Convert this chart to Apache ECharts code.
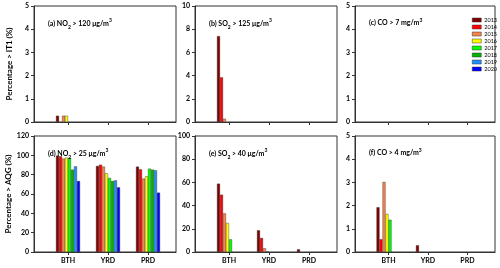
<!DOCTYPE html>
<html><head><meta charset="utf-8">
<script src="https://cdn.jsdelivr.net/npm/echarts@6/dist/echarts.min.js"></script>
<style>html,body{margin:0;padding:0;background:#fff}#c{width:500px;height:268px}</style>
</head><body><div id="c"></div>
<script>
// ---- data ----
const categories = ['BTH', 'YRD', 'PRD'];
const years = ['2013', '2014', '2015', '2016', '2017', '2018', '2019', '2020'];
// each row = one year, columns = BTH, YRD, PRD
const no2_it1 = [[0.27,0,0],[0,0,0],[0.27,0,0],[0.27,0,0],[0,0,0],[0,0,0],[0,0,0],[0,0,0]];
const so2_it1 = [[7.4,0,0],[3.85,0,0],[0.28,0,0],[0,0,0],[0,0,0],[0,0,0],[0,0,0],[0,0,0]];
const co_it1  = [[0,0,0],[0,0,0],[0,0,0],[0,0,0],[0,0,0],[0,0,0],[0,0,0],[0,0,0]];
const no2_aqg = [[99.7,89,88.3],[99,90.3,85.5],[96.6,88.3,75.9],[97.6,81.4,78.3],[97.2,76.6,86.2],[85.2,73.4,85.2],[88.6,74.1,84.5],[73.4,66.9,61.4]];
const so2_aqg = [[58.9,18.7,2.3],[49.4,12.1,0],[33.3,3.2,0],[25,0.3,0],[10.9,0,0],[0,0,0],[0,0,0],[0,0,0]];
const co_aqg  = [[1.93,0.29,0],[0.55,0,0],[3.02,0,0],[1.64,0,0],[1.39,0,0],[0,0,0],[0,0,0],[0,0,0]];
const yMax = [5, 10, 5, 120, 100, 5];
const yStep = [1, 2, 1, 20, 20, 1];
const panelTitles = [
  '(a) NO{sub|2} > 120 μg/m{sup|3}',
  '(b) SO{sub|2} > 125 μg/m{sup|3}',
  '(c) CO > 7 mg/m{sup|3}',
  '(d) NO{sub|2} > 25 μg/m{sup|3}',
  '(e) SO{sub|2} > 40 μg/m{sup|3}',
  '(f) CO > 4 mg/m{sup|3}'
];
const yNames = ['Percentage > IT1 (%)', 'Percentage > AQG (%)'];
const panels = [no2_it1, so2_it1, co_it1, no2_aqg, so2_aqg, co_aqg];

// ---- styles ----
const colors = ['#800000', '#ff0000', '#f7844a', '#ffff00', '#00ff00', '#00b400', '#1e90ff', '#0000ff'];
const FONT = 'Lato';
const lefts = [34, 195, 355];
const widths = [142, 142, 140];
const tops = [6, 136];
const H = 116;

const grids = [], xAxes = [], yAxes = [], series = [], titles = [];
for (let p = 0; p < 6; p++) {
  const col = p % 3, row = Math.floor(p / 3);
  grids.push({left: lefts[col], top: tops[row], width: widths[col], height: H,
    show: true, borderColor: '#333', borderWidth: 1, backgroundColor: 'transparent'});
  xAxes.push({type: 'value', gridIndex: p, min: 0.15, max: 3.7,
    axisLine: {show: true, lineStyle: {color: '#333', width: 1}},
    axisTick: {show: true, length: 3, customValues: [1, 2, 3], lineStyle: {color: '#333'}},
    axisLabel: {show: row === 1, customValues: [1, 2, 3], margin: 5,
      formatter: v => categories[Math.round(v) - 1] || '',
      fontFamily: FONT, fontWeight: 'bold', fontSize: 7, color: '#000'},
    splitLine: {show: false}});
  const ya = {type: 'value', gridIndex: p, min: 0, max: yMax[p], interval: yStep[p],
    axisLine: {show: true, lineStyle: {color: '#333', width: 1}},
    axisTick: {show: true, length: 3, lineStyle: {color: '#333'}},
    axisLabel: {fontFamily: FONT, fontWeight: 'bold', fontSize: 7, color: '#000', margin: 5},
    splitLine: {show: false}};
  if (col === 0) {
    Object.assign(ya, {name: yNames[row], nameLocation: 'middle', nameGap: 21, nameRotate: 90,
      nameTextStyle: {fontFamily: FONT, fontWeight: 'bold', fontSize: 8, color: '#000'}});
  }
  yAxes.push(ya);
  titles.push({text: panelTitles[p], left: lefts[col] + 9, top: tops[row] + 7,
    textStyle: {fontFamily: FONT, fontWeight: 'bold', fontSize: 7, color: '#000', lineHeight: 10,
      rich: {
        sub: {fontFamily: FONT, fontWeight: 'bold', fontSize: 5, verticalAlign: 'bottom', lineHeight: 12},
        sup: {fontFamily: FONT, fontWeight: 'bold', fontSize: 5, verticalAlign: 'top', lineHeight: 7}
      }}});
  const arr = panels[p];
  for (let y = 0; y < years.length; y++) {
    series.push({type: 'bar', name: years[y], xAxisIndex: p, yAxisIndex: p,
      barWidth: 3, barGap: '0%', silent: true, animation: false,
      itemStyle: {color: colors[y], borderColor: '#333', borderWidth: 0.4},
      // zero values are left undrawn, as in the reference
      data: categories.map((c, j) => [j + 1, arr[y][j] === 0 ? '-' : arr[y][j]])});
  }
}

const chart = echarts.init(document.getElementById('c'), null, {renderer: 'canvas'});
chart.setOption({
  animation: false,
  backgroundColor: '#fff',
  title: titles,
  grid: grids,
  xAxis: xAxes,
  yAxis: yAxes,
  legend: {data: years, orient: 'vertical', left: 467, top: 12, itemWidth: 9, itemHeight: 4,
    itemGap: 1, icon: 'rect', selectedMode: false,
    itemStyle: {borderColor: '#333', borderWidth: 0.5},
    textStyle: {fontFamily: FONT, fontSize: 5.5, color: '#000', lineHeight: 6, padding: [0, 0, 0, -2]}},
  series: series
});
</script></body></html>
